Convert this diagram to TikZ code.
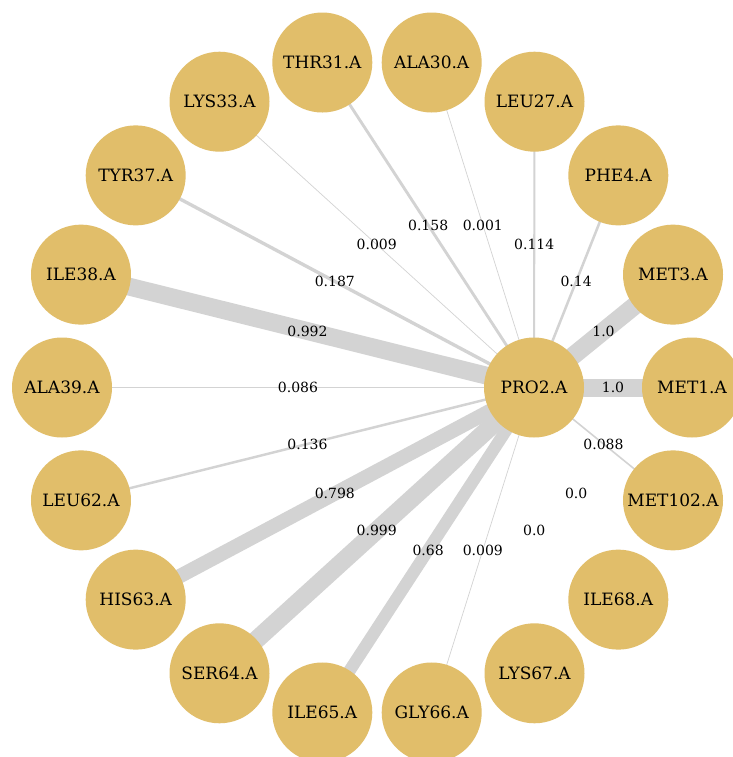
\documentclass[tikz,border=0pt]{standalone}
\usepackage{fontspec}
\setmainfont{DejaVu Serif}
\definecolor{nodefill}{HTML}{E1BE6A}
\definecolor{edgegray}{HTML}{D3D3D3}
\pgfdeclarelayer{back}
\pgfdeclarelayer{edges}
\pgfsetlayers{back,edges,main}
\begin{document}
\begin{tikzpicture}[x=1pt,y=-1pt,
  res/.style={circle, fill=nodefill, minimum size=100pt, inner sep=0pt,
    font=\fontsize{17}{20}\selectfont},
  wlabel/.style={font=\fontsize{14}{16}\selectfont, inner sep=0pt}]
\begin{pgfonlayer}{back}
\fill[white] (0,0) rectangle (732,757);
\end{pgfonlayer}
\useasboundingbox (0,0) rectangle (732,757);
\node[res] (PRO2) at (534,387.5) {PRO2.A};
\foreach \ang/\nm/\lab/\w in {
  0/MET1/MET1.A/1.0, 20/MET3/MET3.A/1.0, 40/PHE4/PHE4.A/0.14,
  60/LEU27/LEU27.A/0.114, 80/ALA30/ALA30.A/0.001, 100/THR31/THR31.A/0.158,
  120/LYS33/LYS33.A/0.009, 140/TYR37/TYR37.A/0.187, 160/ILE38/ILE38.A/0.992,
  180/ALA39/ALA39.A/0.086, 200/LEU62/LEU62.A/0.136, 220/HIS63/HIS63.A/0.798,
  240/SER64/SER64.A/0.999, 260/ILE65/ILE65.A/0.68, 280/GLY66/GLY66.A/0.009,
  300/LYS67/LYS67.A/0.0, 320/ILE68/ILE68.A/0.0, 340/MET102/MET102.A/0.088}{
  \node[res] (\nm) at ({377+315*cos(\ang)},{387.5-330*sin(\ang)}) {\lab};
  \pgfmathsetmacro{\lw}{18*\w}
  \pgfmathparse{\w>0 ? 1 : 0}
  \ifnum\pgfmathresult=1
    \pgfmathsetmacro{\lw}{max(18*\w,0.7)}
    \begin{pgfonlayer}{edges}
      \draw[draw=edgegray, line width=\lw pt] (PRO2.center) -- (\nm.center);
    \end{pgfonlayer}
  \fi
  \path (PRO2.center) -- (\nm.center) node[midway, wlabel] {\w};
}
\end{tikzpicture}
\end{document}
